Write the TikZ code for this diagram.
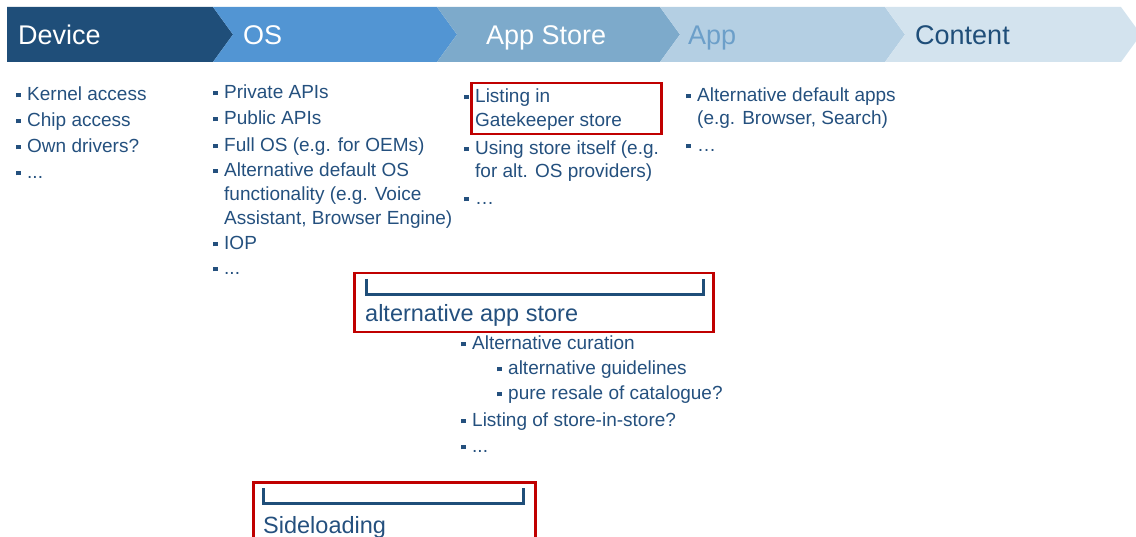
\documentclass[tikz,border=0pt]{standalone}
\usepackage{fontspec}
\setmainfont{Liberation Sans}
\usepackage{xcolor}
\usetikzlibrary{positioning}

\definecolor{devblue}{HTML}{1F4E79}
\definecolor{osblue}{HTML}{5295D3}
\definecolor{storeblue}{HTML}{7DAACB}
\definecolor{appblue}{HTML}{B4CFE3}
\definecolor{contblue}{HTML}{D3E3EE}
\definecolor{apptext}{HTML}{6C9FC9}
\definecolor{txtblue}{HTML}{24507E}
\definecolor{boxred}{HTML}{C00000}

\newcommand{\bul}{\llap{\rule[3.5pt]{4.5pt}{4.5pt}\hspace{6.5pt}}}

\begin{document}
\begin{tikzpicture}[
    x=1pt, y=-1pt,
    head/.style={anchor=base west, inner sep=0pt, font=\fontsize{27}{30}\selectfont},
    item/.style={anchor=base west, inner sep=0pt, text=txtblue, font=\fontsize{19}{24}\selectfont},
    bigtext/.style={anchor=base west, inner sep=0pt, text=txtblue, font=\fontsize{23.5}{28}\selectfont},
    redbox/.style={draw=boxred, line width=2.5pt, anchor=north west, inner sep=0pt},
    bracket/.style={draw=devblue, line width=3pt}
]
  \useasboundingbox (0,0) rectangle (1136,537);

  % Chevrons
  \fill[devblue] (7,7) -- (213,7) -- (233,34.5) -- (213,62) -- (7,62) -- cycle;
  \foreach \xa/\xb/\col in {213/437/osblue, 437/660/storeblue, 660/885/appblue, 885/1121/contblue}
    \fill[\col] (\xa,7) -- (\xb,7) -- (\xb+20,34.5) -- (\xb,62) -- (\xa,62) -- (\xa+20,34.5) -- cycle;

  % Headings
  \node[head, text=white] (device) at (18,45) {Device};
  \node[head, text=white] (os) at (243,45) {OS};
  \node[head, text=white] (store) at (486,45) {App Store};
  \node[head, text=apptext] (app) at (688,45) {App};
  \node[head, text=devblue] (content) at (915,45) {Content};

  % Device column
  \node[item] (kernel) at (27,101) {\bul Kernel access};
  \node[item] (chip) at (27,127) {\bul Chip access};
  \node[item] (drivers) at (27,153) {\bul Own drivers?};
  \node[item] (devmore) at (27,179) {\bul ...};

  % OS column
  \node[item] (private) at (224,99) {\bul Private APIs};
  \node[item] (public) at (224,125) {\bul Public APIs};
  \node[item] (fullos) at (224,152) {\bul Full OS (e.g. for OEMs)};
  \node[item] (altos) at (224,177) {\bul Alternative default OS};
  \node[item] (altos2) at (224,201) {functionality (e.g. Voice};
  \node[item] (altos3) at (224,225) {Assistant, Browser Engine)};
  \node[item] (iop) at (224,250) {\bul IOP};
  \node[item] (osmore) at (224,275) {\bul ...};

  % App Store column
  \node[item] (listing) at (475,103) {\bul Listing in};
  \node[item] (listing2) at (475,127) {Gatekeeper store};
  \node[item] (using) at (475,155) {\bul Using store itself (e.g.};
  \node[item] (using2) at (475,178) {for alt. OS providers)};
  \node[item] (storemore) at (475,205) {\bul …};
  \node[redbox, minimum width=190, minimum height=51] (gkbox) at (470,82) {};

  % App column
  \node[item] (altapps) at (697,102) {\bul Alternative default apps};
  \node[item] (altapps2) at (697,125) {(e.g. Browser, Search)};
  \node[item] (appmore) at (697,152) {\bul …};

  % Alternative app store
  \node[redbox, minimum width=359, minimum height=59] (altbox) at (353,272) {};
  \draw[bracket] (366,279) -- (366,295) -- (703,295) -- (703,279);
  \node[bigtext] (altstore) at (365,322) {alternative app store};
  \node[item] (curation) at (472,350) {\bul Alternative curation};
  \node[item] (guide) at (508,375) {\bul alternative guidelines};
  \node[item] (resale) at (508,400) {\bul pure resale of catalogue?};
  \node[item] (sis) at (472,427) {\bul Listing of store-in-store?};
  \node[item] (altmore) at (472,453) {\bul ...};

  % Sideloading
  \node[redbox, minimum width=282, minimum height=70] (sidebox) at (252,481) {};
  \draw[bracket] (263,488) -- (263,503) -- (523,503) -- (523,488);
  \node[bigtext] (side) at (263,533) {Sideloading};

\end{tikzpicture}
\end{document}
